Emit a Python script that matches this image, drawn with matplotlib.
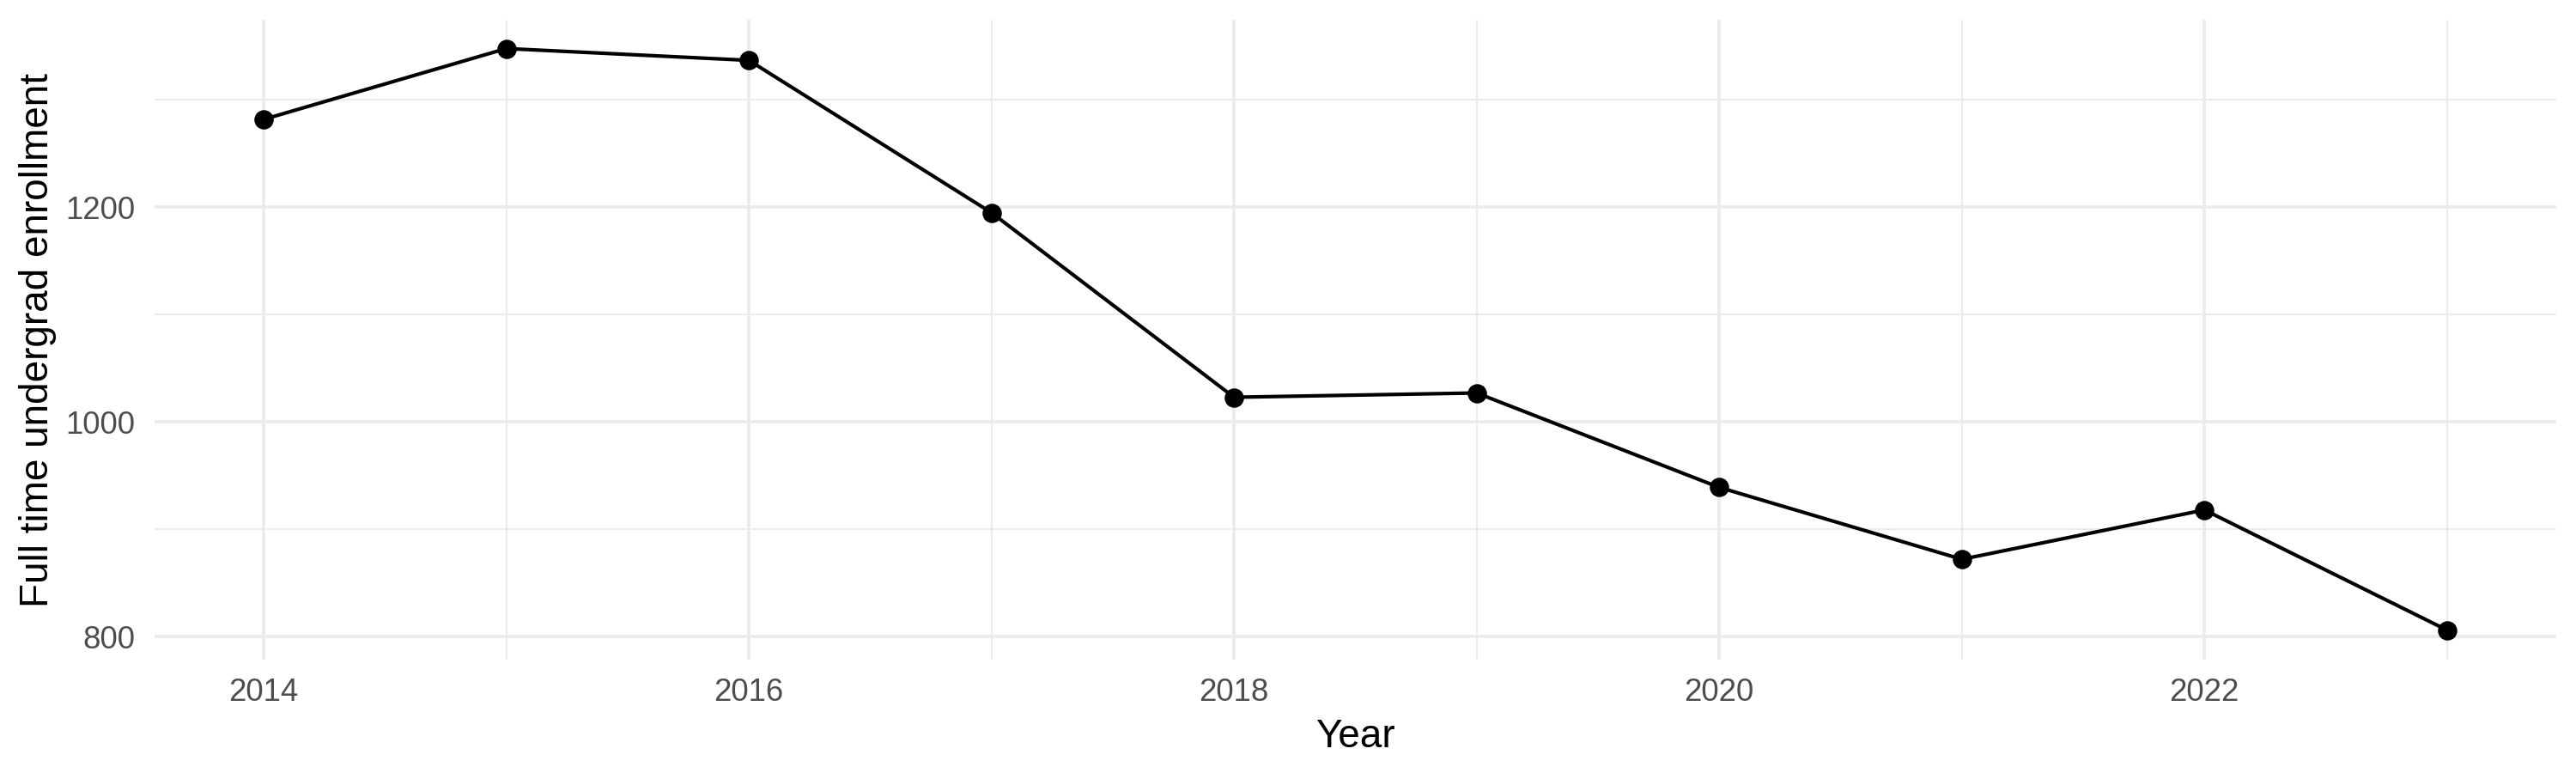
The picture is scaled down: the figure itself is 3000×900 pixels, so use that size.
import matplotlib
matplotlib.use("Agg")
import matplotlib.pyplot as plt
from matplotlib.ticker import MultipleLocator

years = [2014, 2015, 2016, 2017, 2018, 2019, 2020, 2021, 2022, 2023]
enrollment = [1282, 1348, 1337, 1195, 1023, 1027, 939, 872, 918, 806]

x_breaks = [2014, 2016, 2018, 2020, 2022]
y_breaks = [800, 1000, 1200]

plt.rcParams['font.family'] = ['Liberation Sans', 'DejaVu Sans']

fig = plt.figure(figsize=(10, 3), dpi=300)
ax = fig.add_axes([0.06, 0.1467, 0.9323, 0.8277])

ax.plot(years, enrollment, color='black', linewidth=1.0, marker='o',
        markersize=4.4, zorder=3)

ax.set_xlim(2013.55, 2023.45)
ax.set_ylim(778.5, 1374.8)
ax.set_xticks(x_breaks)
ax.set_yticks(y_breaks)
ax.xaxis.set_minor_locator(MultipleLocator(1))
ax.yaxis.set_minor_locator(MultipleLocator(100))

# minimal theme: grey grid, no spines, no ticks
ax.grid(True, which='major', color='#EBEBEB', linewidth=0.9)
ax.grid(True, which='minor', color='#EBEBEB', linewidth=0.5)
ax.set_axisbelow(True)
for s in ax.spines.values():
    s.set_visible(False)
ax.tick_params(which='both', length=0)
ax.tick_params(axis='x', pad=5, labelsize=8.8, labelcolor='#4D4D4D')
ax.tick_params(axis='y', pad=5.5, labelsize=8.8, labelcolor='#4D4D4D')

ax.set_xlabel("Year", fontsize=11, labelpad=3)
ax.set_ylabel("Full time undergrad enrollment", fontsize=11, labelpad=2.5)

fig.savefig("out.png", dpi=300)
